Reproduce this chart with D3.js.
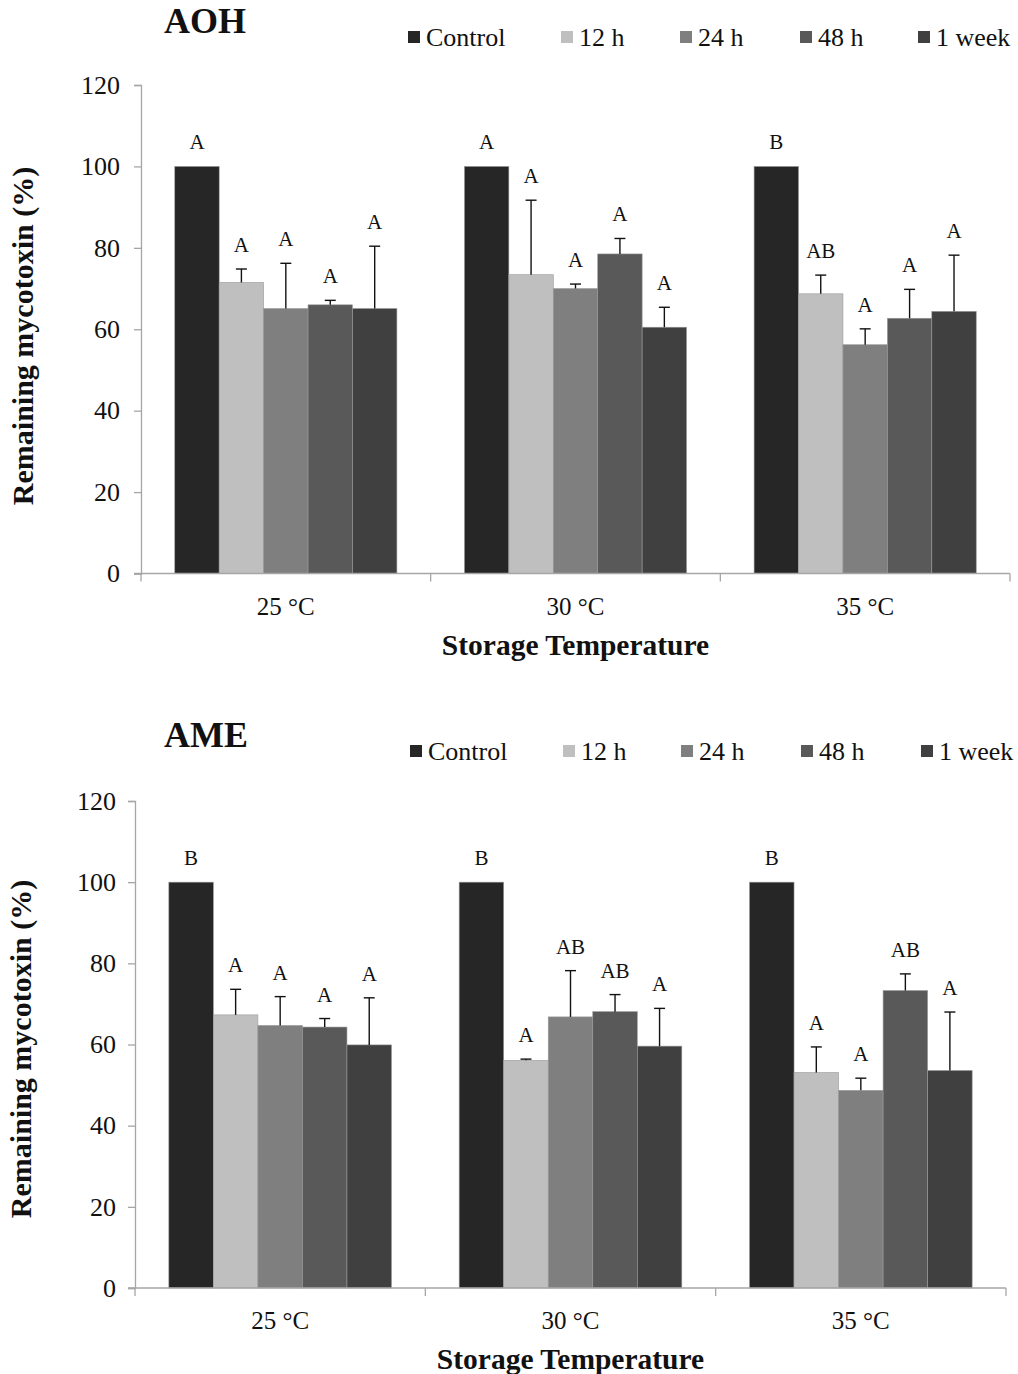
<!DOCTYPE html>
<html>
<head>
<meta charset="utf-8">
<script src="https://cdn.jsdelivr.net/npm/d3@7"></script>
<style>
  html, body { margin: 0; padding: 0; background: #fff; }
  svg { display: block; }
  text { font-family: "Liberation Serif", "Times New Roman", serif; fill: #111; }
</style>
</head>
<body>
<svg id="chart" width="1018" height="1374"></svg>
<script>
// ---- data ----
const categories = ["25 °C", "30 °C", "35 °C"];
const series = ["Control", "12 h", "24 h", "48 h", "1 week"];
const yTicks = [0, 20, 40, 60, 80, 100, 120];

const aohMeans = [
  [100, 71.5, 65.1, 66.0, 65.1],
  [100, 73.4, 70.0, 78.5, 60.5],
  [100, 68.7, 56.2, 62.7, 64.4]
];
const aohErr = [
  [0, 3.3, 11.1, 1.1, 15.3],
  [0, 18.3, 1.1, 3.8, 4.9],
  [0, 4.6, 3.9, 7.1, 13.8]
];
const aohLetters = [
  ["A", "A", "A", "A", "A"],
  ["A", "A", "A", "A", "A"],
  ["B", "AB", "A", "A", "A"]
];

const ameMeans = [
  [100, 67.3, 64.7, 64.3, 59.9],
  [100, 56.1, 66.8, 68.1, 59.6],
  [100, 53.1, 48.7, 73.3, 53.6]
];
const ameErr = [
  [0, 6.3, 7.1, 2.1, 11.6],
  [0, 0.3, 11.4, 4.2, 9.3],
  [0, 6.3, 3.0, 4.1, 14.4]
];
const ameLetters = [
  ["B", "A", "A", "A", "A"],
  ["B", "A", "AB", "AB", "A"],
  ["B", "A", "A", "AB", "A"]
];

const colors = ["#262626", "#bfbfbf", "#7f7f7f", "#595959", "#404040"];

// ---- drawing ----
const svg = d3.select("#chart");
const axisColor = "#a6a6a6";

function drawPanel(cfg) {
  const g = svg.append("g");
  const x0 = d3.scaleBand().domain(categories).range([cfg.left, cfg.right]).padding(0);
  const x1 = d3.scaleBand().domain(series).range([0, x0.bandwidth()]).paddingInner(0).paddingOuter(0.76);
  const y = d3.scaleLinear().domain([0, 120]).range([cfg.bottom, cfg.top]);
  const color = d3.scaleOrdinal().domain(series).range(colors);

  // title
  g.append("text").attr("x", cfg.titleX).attr("y", cfg.titleY)
    .attr("font-size", 36).attr("font-weight", "bold").text(cfg.title);

  // legend
  const leg = g.append("g");
  series.forEach((s, i) => {
    leg.append("rect").attr("x", cfg.legendX[i]).attr("y", cfg.legendY - 15)
      .attr("width", 12).attr("height", 12).attr("fill", color(s));
    leg.append("text").attr("x", cfg.legendX[i] + 18).attr("y", cfg.legendY)
      .attr("font-size", 26).text(s);
  });

  // bars
  categories.forEach((c, ci) => {
    const grp = g.append("g").attr("transform", `translate(${x0(c)},0)`);
    series.forEach((s, si) => {
      const v = cfg.means[ci][si];
      const e = cfg.err[ci][si];
      const bx = x1(s);
      const bw = x1.bandwidth();
      grp.append("rect").attr("x", bx).attr("y", y(v))
        .attr("width", bw).attr("height", y(0) - y(v))
        .attr("fill", color(s)).attr("stroke", "#9a9a9a").attr("stroke-width", 0.6);
      const cx = bx + bw / 2;
      if (e > 0) {
        grp.append("line").attr("x1", cx).attr("x2", cx).attr("y1", y(v)).attr("y2", y(v + e))
          .attr("stroke", "#111").attr("stroke-width", 1.4);
        grp.append("line").attr("x1", cx - 5.5).attr("x2", cx + 5.5).attr("y1", y(v + e)).attr("y2", y(v + e))
          .attr("stroke", "#111").attr("stroke-width", 1.4);
      }
      grp.append("text").attr("x", cx).attr("y", y(v + e) - 17)
        .attr("text-anchor", "middle").attr("font-size", 21)
        .text(cfg.letters[ci][si]);
    });
  });

  // y axis
  const yAxis = d3.axisLeft(y).tickValues(yTicks).tickSize(7).tickPadding(cfg.yPad).tickFormat(d3.format("d"));
  const ya = g.append("g").attr("transform", `translate(${cfg.left},0)`).call(yAxis);
  ya.select(".domain").attr("stroke", axisColor).attr("stroke-width", 1.3);
  ya.selectAll(".tick line").attr("stroke", axisColor).attr("stroke-width", 1.3);
  ya.selectAll(".tick text").attr("font-size", 26).attr("font-family", "Liberation Serif").attr("fill", "#111");

  // x axis
  const xa = g.append("g").attr("transform", `translate(0,${cfg.bottom})`);
  xa.append("line").attr("x1", cfg.left - 7).attr("x2", cfg.right).attr("y1", 0).attr("y2", 0)
    .attr("stroke", axisColor).attr("stroke-width", 1.3);
  const bounds = categories.map(c => x0(c)).concat([x0(categories[categories.length - 1]) + x0.bandwidth()]);
  bounds.forEach(b => {
    xa.append("line").attr("x1", b).attr("x2", b).attr("y1", 0).attr("y2", 8)
      .attr("stroke", axisColor).attr("stroke-width", 1.3);
  });
  categories.forEach(c => {
    xa.append("text").attr("x", x0(c) + x0.bandwidth() / 2).attr("y", 41)
      .attr("text-anchor", "middle").attr("font-size", 25).text(c);
  });

  // axis titles
  g.append("text").attr("x", (cfg.left + cfg.right) / 2).attr("y", cfg.bottom + 81)
    .attr("text-anchor", "middle").attr("font-size", 29.5).attr("font-weight", "bold")
    .text("Storage Temperature");
  g.append("text")
    .attr("transform", `translate(${cfg.yTitleX},${cfg.yTitleY}) rotate(-90)`)
    .attr("text-anchor", "middle").attr("font-size", 30).attr("font-weight", "bold")
    .text("Remaining mycotoxin (%)");
}

drawPanel({
  title: "AOH", titleX: 164, titleY: 33,
  legendX: [408, 561, 680, 800, 918], legendY: 46,
  left: 141, right: 1010, top: 85, bottom: 573.5,
  yPad: 14, yTitleX: 33, yTitleY: 336,
  means: aohMeans, err: aohErr, letters: aohLetters
});

drawPanel({
  title: "AME", titleX: 164, titleY: 747,
  legendX: [410, 563, 681, 801, 921], legendY: 760,
  left: 135, right: 1006, top: 801, bottom: 1288,
  yPad: 12, yTitleX: 31, yTitleY: 1049,
  means: ameMeans, err: ameErr, letters: ameLetters
});
</script>
</body>
</html>
